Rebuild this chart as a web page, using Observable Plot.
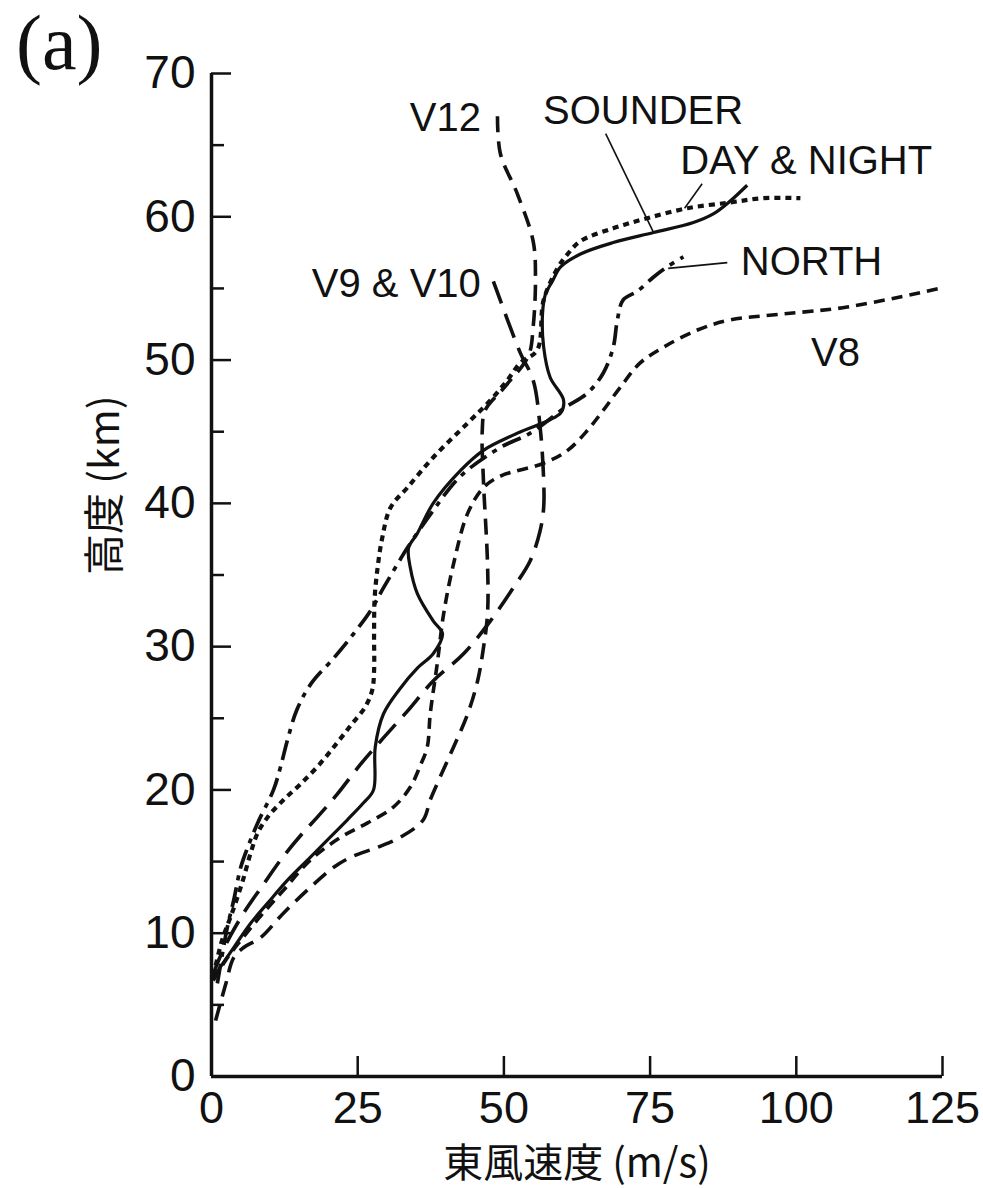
<!DOCTYPE html>
<html><head><meta charset="utf-8">
<script src="https://cdn.jsdelivr.net/npm/d3@7"></script>
<script src="https://cdn.jsdelivr.net/npm/@observablehq/plot@0.6"></script>
<style>
body{margin:0;background:#fff}
#wrap{position:relative;width:983px;height:1188px}
#tag{position:absolute;left:16px;top:4px;font:78px "Liberation Serif","Times New Roman",serif;line-height:1;color:#111}
</style>
</head><body><div id="wrap"><div id="tag">(a)</div></div>
<script>
// ---- data (speed in m/s, height in km) ----
const sounderSpeed  = [0.3,3.8,6.7,9.6,13.0,16.4,19.8,23.2,26.0,27.7,28.0,29.4,32.3,35.2,37.9,39.5,37.9,35.2,34.0,33.7,35.2,37.9,42.6,46.5,52.3,59.7,60.2,57.9,56.8,56.6,57.1,58.3,59.7,63.1,68.7,75.6,82.4,85.8,88.7,91.6];
const sounderHeight = [6.9,9.0,10.7,12.1,13.7,15.1,16.5,17.9,19.1,20.0,23.0,25.3,27.1,28.5,29.5,30.9,31.8,33.7,35.5,36.9,37.9,40.0,42.3,43.7,44.9,46.3,47.2,48.8,50.9,53.2,54.6,55.5,56.5,57.4,58.2,58.9,59.6,60.2,61.1,62.2];

const dayNightSpeed  = [0.3,1.8,3.5,5.3,6.7,7.9,9.6,12.3,15.2,18.5,21.5,24.0,26.3,27.5,27.8,27.8,27.9,28.4,29.2,30.6,33.5,37.9,43.8,47.7,50.6,52.8,55.7,56.8,59.3,60.9,63.1,68.7,74.5,81.4,88.7,94.4,100.7];
const dayNightHeight = [7.0,9.5,11.4,13.6,15.6,17.0,18.1,19.3,20.4,21.8,23.3,24.6,25.8,27.0,28.3,30.9,33.4,35.5,37.6,39.7,41.1,43.2,45.6,47.2,48.6,49.8,50.7,54.2,56.5,57.4,58.3,59.2,59.9,60.6,61.0,61.3,61.3];

const northSpeed  = [1.0,2.7,3.8,5.0,6.2,7.9,10.6,11.8,13.0,14.6,17.0,20.9,24.3,27.2,29.4,32.3,33.5,37.9,42.6,49.4,54.5,60.5,64.3,67.0,68.7,69.4,70.4,72.8,75.6,77.9,80.7];
const northHeight = [6.5,10.4,12.3,14.6,16.0,17.7,20.0,21.6,23.5,25.6,27.4,29.2,30.9,32.5,34.1,36.1,36.9,39.5,41.9,43.9,44.9,46.7,47.7,49.1,50.9,52.8,54.2,54.8,55.8,56.5,57.2];

const v8Speed  = [0.3,2.4,5.0,8.4,12.3,16.9,22.1,26.7,31.1,34.0,35.7,36.9,37.4,38.6,39.7,41.4,43.8,46.5,49.4,56.8,60.9,64.3,67.0,69.9,73.3,77.3,83.1,88.7,97.3,108.7,124.5];
const v8Height = [6.7,8.1,9.5,11.2,13.0,15.1,16.7,17.7,18.8,20.2,21.7,23.0,25.3,28.8,32.3,35.8,39.3,41.1,41.9,42.8,43.7,45.1,46.5,48.1,49.8,50.9,52.1,52.8,53.2,53.7,55.0];

const v12Speed  = [0.7,2.4,3.8,5.5,8.4,12.3,16.9,20.9,23.8,28.4,32.3,36.2,37.4,39.1,41.4,43.8,45.5,46.5,47.2,47.2,46.5,46.3,46.8,50.3,54.2,55.0,55.4,55.0,52.3,49.4,48.9];
const v12Height = [3.9,6.4,8.3,9.0,9.7,11.4,13.2,14.6,15.3,16.0,16.7,17.9,19.3,20.9,23.0,25.3,27.6,29.9,32.3,35.8,41.6,45.1,46.5,48.2,50.3,52.3,55.8,58.3,61.6,64.4,67.1];

const v9v10Speed  = [0.2,1.2,3.2,5.8,8.7,11.8,15.2,18.1,21.5,25.5,28.9,33.5,37.9,43.1,47.7,51.6,54.5,56.2,56.8,56.8,56.2,55.0,52.8,48.2];
const v9v10Height = [7.0,8.1,9.8,11.6,13.3,15.1,16.8,18.1,19.7,21.8,23.4,25.5,27.6,29.5,31.8,34.1,36.0,38.1,39.7,41.6,45.3,48.6,50.5,55.5];

const labelNames  = ["V12","SOUNDER","DAY & NIGHT","V9 & V10","NORTH","V8"];
const labelSpeed  = [40.0, 73.8, 101.7, 31.6, 102.6, 106.7];
const labelHeight = [66.9, 67.4, 63.9, 55.3, 56.8, 50.5];

const leaderX1 = [67.4, 83.9, 88.2];
const leaderY1 = [65.8, 62.3, 56.8];
const leaderX2 = [75.6, 80.9, 78.1];
const leaderY2 = [58.9, 60.6, 56.4];

const ticksX = [0, 25, 50, 75, 100, 125];
const ticksY = [0, 10, 20, 30, 40, 50, 60, 70];
const minorTicksY = [5, 15, 25, 35, 45, 55, 65];

const xTitle = "東風速度 (m/s)";
const yTitle = "高度 (km)";

// ---- build ----
const series = [
  {speed: sounderSpeed,  height: sounderHeight,  dash: null,          width: 3.2},
  {speed: dayNightSpeed, height: dayNightHeight, dash: "6,5",         width: 4.2},
  {speed: northSpeed,    height: northHeight,    dash: "20,7,5,7",    width: 3.7},
  {speed: v8Speed,       height: v8Height,       dash: "11,7",        width: 3.6},
  {speed: v12Speed,      height: v12Height,      dash: "16,9",        width: 3.6},
  {speed: v9v10Speed,    height: v9v10Height,    dash: "25,11",       width: 3.6}
];

const lineMarks = series.map(s => Plot.line(
  s.speed.map((v, i) => ({x: v, y: s.height[i]})),
  {x: "x", y: "y", curve: "catmull-rom", stroke: "#111", strokeWidth: s.width,
   strokeDasharray: s.dash, strokeLinecap: "butt", strokeLinejoin: "round"}
));

const cjk = "'Noto Sans CJK JP', 'Noto Sans CJK SC', sans-serif";

const chart = Plot.plot({
  width: 983, height: 1188,
  marginLeft: 211, marginRight: 41, marginTop: 73, marginBottom: 112,
  x: {domain: [0, 125]},
  y: {domain: [0, 70]},
  style: {fontFamily: "'Liberation Sans', Arial, sans-serif", fontSize: "46px", color: "#111", background: "#fff", overflow: "visible"},
  marks: [
    ...lineMarks,
    Plot.link(leaderX1, {x1: leaderX1, y1: leaderY1, x2: leaderX2, y2: leaderY2, stroke: "#111", strokeWidth: 1.6}),
    Plot.text(labelNames, {x: labelSpeed, y: labelHeight, text: labelNames, fontSize: 40, fill: "#111"}),
    Plot.axisX(ticksX, {tickSize: -20, tickPadding: 35, strokeWidth: 2.5, label: null, fontSize: 45}),
    Plot.axisY(ticksY, {tickSize: -20, tickPadding: 36, strokeWidth: 2.5, label: null, fontSize: 46}),
    Plot.axisY(minorTicksY, {tickSize: -13, tickFormat: () => "", strokeWidth: 2.5, label: null}),
    Plot.ruleX([0], {strokeWidth: 3.5, stroke: "#111"}),
    Plot.ruleY([0], {strokeWidth: 3.5, stroke: "#111"}),
    Plot.text([yTitle], {frameAnchor: "left", dx: -106, rotate: -90, fontSize: 41, fontFamily: cjk, fill: "#111"}),
    Plot.text([xTitle], {frameAnchor: "bottom", lineAnchor: "middle", dy: 88, fontSize: 40, fontFamily: cjk, fill: "#111"})
  ]
});
document.getElementById("wrap").appendChild(chart);
</script>
</body></html>
